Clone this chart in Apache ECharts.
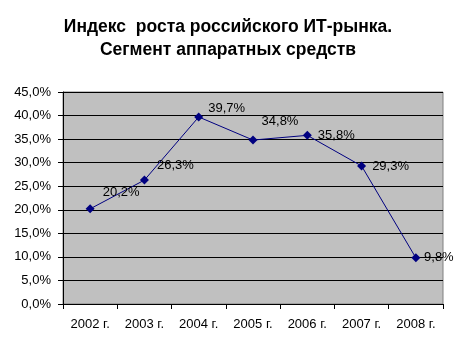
<!DOCTYPE html>
<html>
<head>
<meta charset="utf-8">
<script src="https://cdn.jsdelivr.net/npm/echarts@6/dist/echarts.min.js"></script>
<style>
  html, body { margin: 0; padding: 0; background: #fff; }
  #chart { width: 470px; height: 348px; }
</style>
</head>
<body>
<div id="chart"></div>
<script>
// Index of Russian IT market growth, hardware segment
const years = ['2002 г.', '2003 г.', '2004 г.', '2005 г.', '2006 г.', '2007 г.', '2008 г.'];
const growth = [20.2, 26.3, 39.7, 34.8, 35.8, 29.3, 9.8];
const yTicks = [0, 5, 10, 15, 20, 25, 30, 35, 40, 45];

const fmt = v => v.toFixed(1).replace('.', ',') + '%';

// label offsets (px) relative to each marker
const labelOffsets = [[31, -16], [31, -15], [28, -9], [27, -19], [29, 0], [29, 0], [23, 0]];

const chart = echarts.init(document.getElementById('chart'), null, { renderer: 'canvas' });
const font = 'Arial, "Liberation Sans", sans-serif';

chart.setOption({
  animation: false,
  backgroundColor: '#ffffff',
  title: {
    text: 'Индекс  роста российского ИТ-рынка.\nСегмент аппаратных средств',
    left: 223, top: 11, textAlign: 'center',
    textStyle: { fontFamily: font, fontSize: 17.5, fontWeight: 'bold', color: '#000', lineHeight: 23 }
  },
  grid: {
    left: 63, top: 92, width: 380, height: 212,
    show: true, backgroundColor: '#c0c0c0', borderColor: '#808080', borderWidth: 1
  },
  xAxis: {
    type: 'category', data: years, boundaryGap: true,
    axisLine: { lineStyle: { color: '#000', width: 1 } },
    axisTick: { show: true, length: 5, lineStyle: { color: '#000' } },
    axisLabel: { fontFamily: font, fontSize: 13, color: '#000', margin: 14 }
  },
  yAxis: {
    type: 'value', min: yTicks[0], max: yTicks[yTicks.length - 1], interval: 5,
    axisLine: { show: true, lineStyle: { color: '#000', width: 1 } },
    axisTick: { show: true, length: 5, lineStyle: { color: '#000' } },
    axisLabel: { fontFamily: font, fontSize: 13, color: '#000', margin: 12, formatter: v => fmt(v) },
    splitLine: { show: true, lineStyle: { color: '#000', width: 1 } }
  },
  series: [{
    type: 'line',
    data: growth.map((v, i) => ({
      value: v,
      label: { offset: labelOffsets[i] }
    })),
    symbol: 'diamond', symbolSize: 9,
    lineStyle: { color: '#000080', width: 1 },
    itemStyle: { color: '#000080' },
    label: {
      show: true, position: 'inside',
      fontFamily: font, fontSize: 13, color: '#000',
      formatter: p => fmt(p.value)
    }
  }]
});
</script>
</body>
</html>
